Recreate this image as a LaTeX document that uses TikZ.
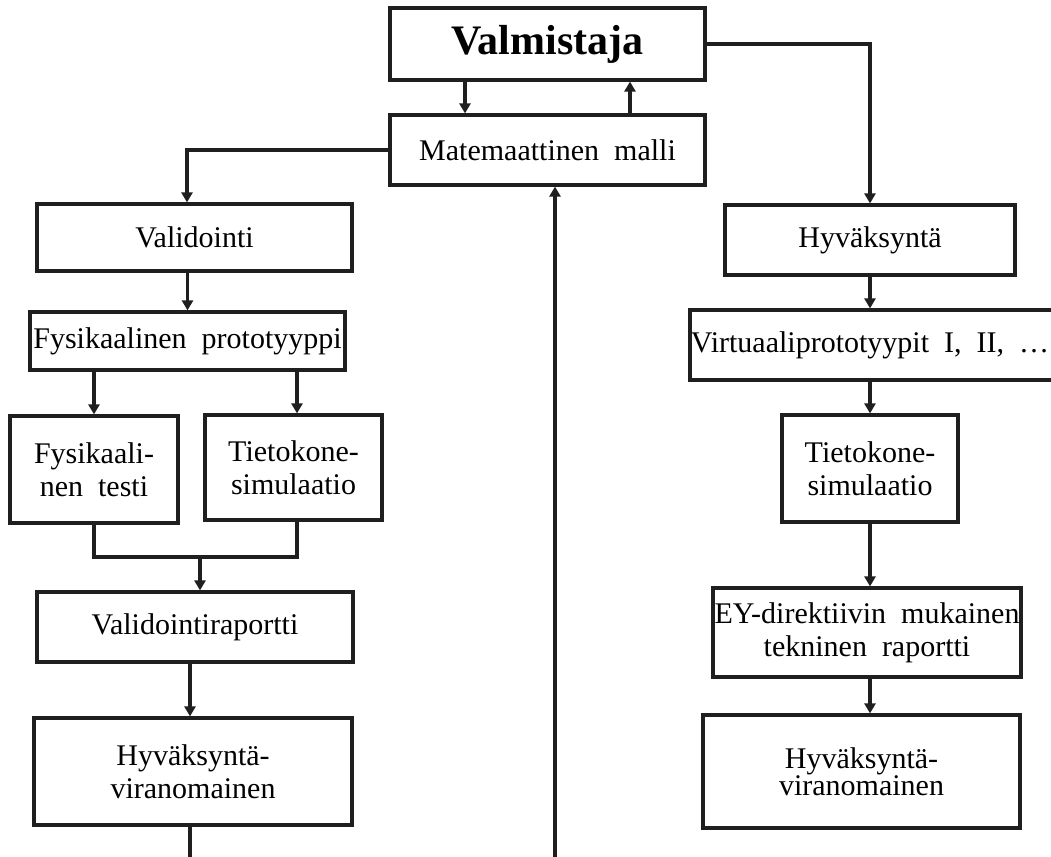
\documentclass[tikz,border=0pt]{standalone}
\usepackage{fontspec}
\setmainfont{Liberation Serif}
\usetikzlibrary{arrows.meta}
\tikzset{
  box/.style={draw=black!88, line width=3.2pt, inner sep=0pt, align=center,
    font=\fontsize{30}{33}\selectfont},
  ln/.style={draw=black!88, line width=3.2pt},
  arr/.style={ln, -{Triangle[length=10pt,width=11pt]}}
}
\begin{document}
\begin{tikzpicture}[x=1pt,y=-1pt]
\useasboundingbox (0,0) rectangle (1051,856);
\clip (0,0) rectangle (1051,856);
% top
\node[box, minimum width=315, minimum height=72, font=\fontsize{42}{44}\selectfont\bfseries] (valm) at (547.5,44) {Valmistaja};
\node[box, minimum width=315, minimum height=70] (mm) at (547.5,150) {Matemaattinen\ \ malli};
% left column
\node[box, minimum width=315, minimum height=67] (valid) at (194.5,237.5) {Validointi};
\node[box, minimum width=315, minimum height=58] (fproto) at (187.5,341) {Fysikaalinen\ \ prototyyppi};
\node[box, minimum width=168, minimum height=107] (ftest) at (94,469.5) {Fysikaali-\\nen\ \ testi};
\node[box, minimum width=177, minimum height=105] (tsim1) at (293.5,467.5) {Tietokone-\\simulaatio};
\node[box, minimum width=316, minimum height=70] (vrap) at (195,627) {Validointiraportti};
\node[box, minimum width=318, minimum height=107] (hv1) at (193,771.5) {Hyväksyntä-\\viranomainen};
% right column
\node[box, minimum width=290, minimum height=70] (hyv) at (870,240) {Hyväksyntä};
\node[box, minimum width=380, minimum height=70] (vproto) at (880,345) {\hspace*{-20pt}Virtuaaliprototyypit\ \ I,\ \ II,\ \ \ldots};
\node[box, minimum width=176, minimum height=107] (tsim2) at (870,468.5) {Tietokone-\\simulaatio};
\node[box, minimum width=308, minimum height=89] (ey) at (867,632.5) {EY-direktiivin\ \ mukainen\\tekninen\ \ raportti};
\node[box, minimum width=317, minimum height=113, font=\fontsize{30}{21}\selectfont] (hv2) at (861.5,771.5) {Hyväksyntä-\\viranomainen};
% coordinates
\coordinate (c1) at (187,150);
\coordinate (mg) at (200,557);
\coordinate (e1) at (190,862);
\coordinate (e2) at (555,862);
% connectors top
\draw[arr] ([xshift=-82.5pt]valm.south) -- ([xshift=-82.5pt]mm.north);
\draw[arr] ([xshift=82.5pt]mm.north) -- ([xshift=82.5pt]valm.south);
\draw[arr] (valm.east) -| (hyv.north);
\draw[arr] (mm.west) -| (c1 |- valid.north);
\draw[arr] (e2) -- (e2 |- mm.south);
% left
\draw[arr] (fproto.north |- valid.south) -- (fproto.north);
\draw[arr] (fproto.south -| ftest.north) -- (ftest.north);
\draw[arr] ([xshift=3.5pt]tsim1.north |- fproto.south) -- ([xshift=3.5pt]tsim1.north);
\draw[ln] (ftest.south) |- (mg) -| ([xshift=3.5pt]tsim1.south);
\draw[arr] (mg) -- (mg |- vrap.north);
\draw[arr] (e1 |- vrap.south) -- (e1 |- hv1.north);
\draw[ln] (hv1.south -| e1) -- (e1);
% right
\draw[arr] (hyv.south) -- (hyv.south |- vproto.north);
\draw[arr] (hyv.south |- vproto.south) -- (tsim2.north);
\draw[arr] (tsim2.south) -- (tsim2.south |- ey.north);
\draw[arr] (tsim2.south |- ey.south) -- (tsim2.south |- hv2.north);
\end{tikzpicture}
\end{document}
